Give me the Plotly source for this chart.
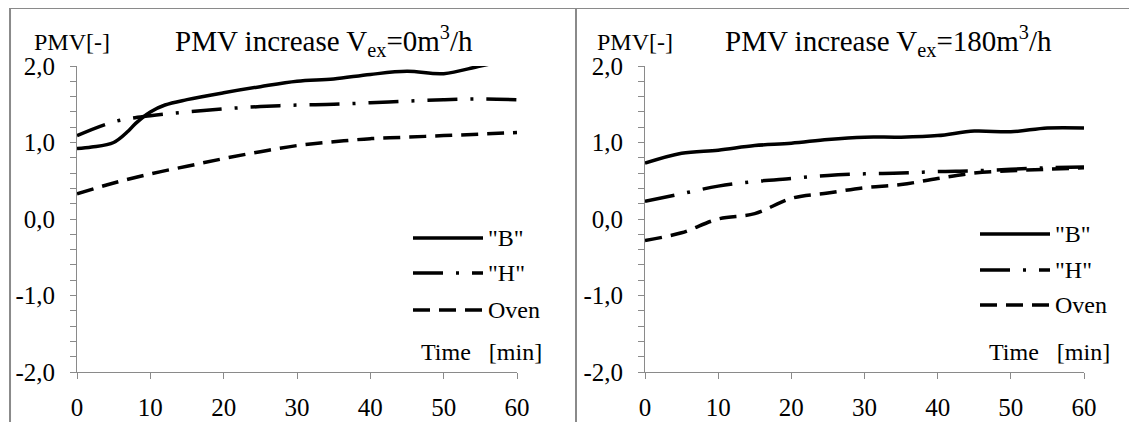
import plotly.graph_objects as go

# ---------------- data ----------------
time_min = [0, 5, 10, 15, 20, 25, 30, 35, 40, 45, 50, 55, 60]

# Left panel: V_ex = 0 m3/h
b_time_0 = [0, 2, 5, 7, 8, 10, 12, 15, 20, 25, 30, 35, 40, 45, 50, 55, 60]
b_pmv_0 = [0.92, 0.94, 1.00, 1.15, 1.25, 1.40, 1.49, 1.56, 1.65, 1.73, 1.80, 1.83, 1.89, 1.93, 1.90, 2.00, 2.10]
h_pmv_0 = [1.09, 1.27, 1.35, 1.40, 1.44, 1.47, 1.49, 1.50, 1.52, 1.54, 1.56, 1.57, 1.56]
oven_pmv_0 = [0.33, 0.47, 0.59, 0.69, 0.79, 0.88, 0.96, 1.01, 1.05, 1.07, 1.09, 1.11, 1.13]

# Right panel: V_ex = 180 m3/h
b_pmv_180 = [0.73, 0.86, 0.90, 0.96, 0.99, 1.04, 1.07, 1.07, 1.09, 1.15, 1.14, 1.19, 1.19]
h_pmv_180 = [0.23, 0.33, 0.43, 0.49, 0.53, 0.57, 0.59, 0.60, 0.62, 0.63, 0.65, 0.67, 0.68]
oven_pmv_180 = [-0.28, -0.18, 0.00, 0.07, 0.27, 0.34, 0.41, 0.45, 0.53, 0.60, 0.63, 0.65, 0.67]

y_tick_vals = [-2, -1, 0, 1, 2]
y_tick_text = ["-2,0", "-1,0", "0,0", "1,0", "2,0"]
x_tick_vals = [0, 10, 20, 30, 40, 50, 60]
series_names = ['"B"', '"H"', "Oven"]
titles = ["PMV increase V<sub>ex</sub>=0m<sup>3</sup>/h",
          "PMV increase V<sub>ex</sub>=180m<sup>3</sup>/h"]

# ---------------- styling ----------------
PAGE_W, PAGE_H = 1137, 422
OFF = 8  # default body margin of the page
W, H = PAGE_W - OFF, PAGE_H - OFF
FONT = "Liberation Serif, Times New Roman, serif"
GRAY = "#8a8a8a"
LW = 3.5
DASH_H = "30px,13px,3px,13px"
DASH_OVEN = "17px,9px"
styles = ["solid", DASH_H, DASH_OVEN]


def px(x):
    return min(max((x - OFF) / W, 0), 1)


def py(y):
    return min(max(1 - (y - OFF) / H, 0), 1)


fig = go.Figure()

line_sets = [
    ("x", "y", [(b_time_0, b_pmv_0), (time_min, h_pmv_0), (time_min, oven_pmv_0)]),
    ("x2", "y2", [(time_min, b_pmv_180), (time_min, h_pmv_180), (time_min, oven_pmv_180)]),
]
for xa, ya, series in line_sets:
    for (xs, ys), dash in zip(series, styles):
        fig.add_trace(go.Scatter(x=xs, y=ys, mode="lines", xaxis=xa, yaxis=ya,
                                 line=dict(color="black", width=LW, shape="spline", dash=dash),
                                 showlegend=False, hoverinfo="skip"))

ydom = [py(372), py(66)]
xaxis_common = dict(range=[0, 60], tickvals=x_tick_vals, showline=True, linecolor=GRAY, linewidth=1,
                    ticks="outside", ticklen=6, tickcolor=GRAY, showgrid=False, zeroline=False,
                    tickfont=dict(family=FONT, size=25, color="black"), ticklabelstandoff=7,
                    fixedrange=True)
yaxis_common = dict(range=[-2, 2], tickvals=y_tick_vals, ticktext=y_tick_text, showline=True,
                    linecolor=GRAY, linewidth=1, ticks="outside", ticklen=6, tickcolor=GRAY,
                    showgrid=False, zeroline=False, domain=ydom,
                    tickfont=dict(family=FONT, size=25, color="black"), ticklabelstandoff=10,
                    minor=dict(dtick=0.2, tick0=-2, ticks="outside", ticklen=6, tickcolor=GRAY, showgrid=False),
                    fixedrange=True)

fig.update_layout(
    width=W, height=H, margin=dict(l=0, r=0, t=0, b=0, autoexpand=False),
    paper_bgcolor="white", plot_bgcolor="white",
    xaxis=dict(domain=[px(77), px(517)], anchor="y", **xaxis_common),
    yaxis=dict(anchor="x", **yaxis_common),
    xaxis2=dict(domain=[px(645), px(1084)], anchor="y2", **xaxis_common),
    yaxis2=dict(anchor="x2", **yaxis_common),
    showlegend=False,
)

shapes = []
# frame lines
shapes.append(dict(type="line", xref="paper", yref="paper", x0=px(9), x1=1, y0=1, y1=1,
                   line=dict(color=GRAY, width=2)))
shapes.append(dict(type="line", xref="paper", yref="paper", x0=px(9) + 0.0009, x1=px(9) + 0.0009, y0=0, y1=1,
                   line=dict(color=GRAY, width=2)))
shapes.append(dict(type="line", xref="paper", yref="paper", x0=px(576), x1=px(576), y0=0, y1=1,
                   line=dict(color=GRAY, width=2)))

annotations = []
panels = [
    dict(pmv_x=32, title_x=173, leg_x0=413, leg_x1=483, rows=[238, 273, 310], time_x=419),
    dict(pmv_x=595, title_x=723, leg_x0=980, leg_x1=1050, rows=[234, 270, 305], time_x=987),
]
for p, title in zip(panels, titles):
    annotations.append(dict(text="PMV[-]", x=px(p["pmv_x"]), y=py(42), xref="paper", yref="paper",
                            xanchor="left", yanchor="middle", showarrow=False,
                            font=dict(family=FONT, size=24, color="black")))
    annotations.append(dict(text=title, x=px(p["title_x"]), y=py(41), xref="paper", yref="paper",
                            xanchor="left", yanchor="middle", showarrow=False,
                            font=dict(family=FONT, size=29, color="black")))
    for name, dash, ry in zip(series_names, styles, p["rows"]):
        shapes.append(dict(type="line", xref="paper", yref="paper", x0=px(p["leg_x0"]), x1=px(p["leg_x1"]),
                           y0=py(ry), y1=py(ry), line=dict(color="black", width=LW, dash=dash)))
        annotations.append(dict(text=name, x=px(p["leg_x1"] + 3), y=py(ry), xref="paper", yref="paper",
                                xanchor="left", yanchor="middle", showarrow=False,
                                font=dict(family=FONT, size=24, color="black")))
    annotations.append(dict(text="Time\u00a0\u00a0 [min]", x=px(p["time_x"]), y=py(352), xref="paper", yref="paper",
                            xanchor="left", yanchor="middle", showarrow=False,
                            font=dict(family=FONT, size=24, color="black")))

fig.update_layout(shapes=shapes, annotations=annotations)
fig.write_html("out.html")
